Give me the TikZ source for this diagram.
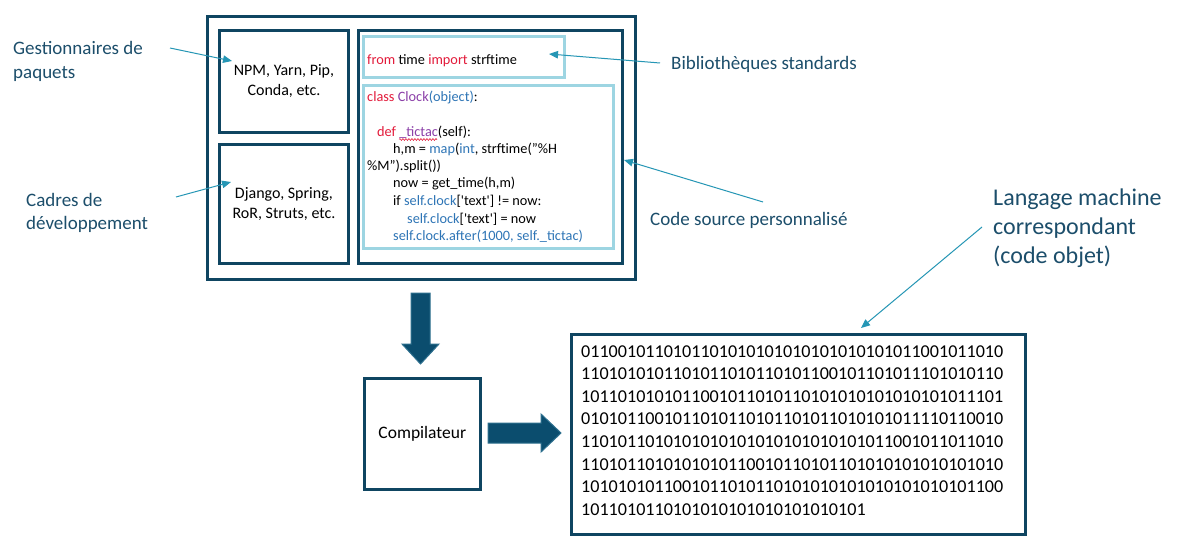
\documentclass[tikz,border=0pt]{standalone}
\usepackage{fontspec}
\setmainfont{Carlito}
\usetikzlibrary{arrows.meta,decorations.pathmorphing}
\definecolor{boxdark}{HTML}{0F4561}
\definecolor{lightbox}{HTML}{9DD5E2}
\definecolor{labelcol}{HTML}{1C4E6B}
\definecolor{thinarrow}{HTML}{2596B5}
\definecolor{codered}{HTML}{E31B3B}
\definecolor{codepurple}{HTML}{8B3FA8}
\definecolor{codeblue}{HTML}{2E75B6}
\definecolor{blockfill}{HTML}{0B4D6E}
\definecolor{blockedge}{HTML}{2D6F8E}
\newcommand{\kw}[1]{\textcolor{codered}{#1}}
\newcommand{\pu}[1]{\textcolor{codepurple}{#1}}
\newcommand{\bl}[1]{\textcolor{codeblue}{#1}}
\newcommand{\qs}{\textquotesingle}
\begin{document}
\begin{tikzpicture}[x=1pt,y=-1pt,
  darkbox/.style={draw=boxdark,line width=3pt,inner sep=0pt,align=center,anchor=north west,font=\fontsize{16}{20}\selectfont},
  lightframe/.style={draw=lightbox,line width=2.6pt,inner sep=0pt,anchor=north west},
  codeline/.style={anchor=base west,inner sep=0pt,font=\fontsize{14.3}{17}\selectfont},
  lbl/.style={anchor=base west,inner sep=0pt,text=labelcol,font=\fontsize{19}{23}\selectfont},
  biglbl/.style={anchor=base west,inner sep=0pt,text=labelcol,font=\fontsize{24}{29}\selectfont},
  binline/.style={anchor=base west,inner sep=0pt,font=\fontsize{18.1}{22}\selectfont},
  pointer/.style={draw=thinarrow,line width=1pt,-{Triangle[length=9pt,width=7.5pt]}},
  blockarrow/.style={fill=blockfill,draw=blockedge,line width=1pt}]
\useasboundingbox[fill=white] (0,0) rectangle (1177,551);

% outer and inner boxes
\node[darkbox,minimum width=428pt,minimum height=263pt] (outer) at (206,15) {};
\node[darkbox,minimum width=129pt,minimum height=102pt] (pkg) at (218,29) {NPM, Yarn, Pip,\\Conda, etc.};
\node[darkbox,minimum width=129pt,minimum height=119pt] (fw) at (218,143) {Django, Spring,\\RoR, Struts, etc.};
\node[darkbox,minimum width=264pt,minimum height=233pt] (src) at (357,29) {};
\node[lightframe,minimum width=201pt,minimum height=41pt] (lib) at (362,35) {};
\node[lightframe,minimum width=250pt,minimum height=163pt] (code) at (362,84) {};

% code text
\node[codeline] (c0) at (367,65) {\kw{from} time \kw{import} strftime};
\node[codeline] (c1) at (367,101) {\kw{class} \pu{Clock}\bl{(object)}:};
\node[codeline] (c2) at (377,136) {\kw{def} \pu{\_tictac}(self):};
\node[codeline] (c3) at (393,153) {h,m = \bl{map}(\bl{int}, strftime("\%H};
\node[codeline] (c4) at (367,170) {\%M").split())};
\node[codeline] (c5) at (393,187) {now = get\_time(h,m)};
\node[codeline] (c6) at (393,205) {if \bl{self.clock}[\qs text\qs] != now:};
\node[codeline] (c7) at (407,223) {\bl{self.clock}[\qs text\qs] = now};
\node[codeline] (c8) at (393,240) {\bl{self.clock.after(1000, self.\_tictac)}};
\draw[codered,line width=0.6pt,decorate,decoration={snake,amplitude=0.9pt,segment length=3pt}] (399,139.5) -- (437,139.5);

% compiler and machine code
\node[darkbox,line width=2.6pt,minimum width=116pt,minimum height=111pt,font=\fontsize{17.5}{21}\selectfont] (comp) at (363,377) {Compilateur};
\node[darkbox,minimum width=454pt,minimum height=200pt] (bin) at (570,333) {};
\node[binline] (b1) at (581,357) {0110010110101101010101010101010101011001011010};
\node[binline] (b2) at (581,379.6) {1101010101101011010110101100101101011101010110};
\node[binline] (b3) at (581,402.2) {1011010101011001011010110101010101010101011101};
\node[binline] (b4) at (581,424.8) {0101011001011010110101101011010101011110110010};
\node[binline] (b5) at (581,447.4) {1101011010101010101010101010101011001011011010};
\node[binline] (b6) at (581,470) {1101011010101010110010110101101010101010101010};
\node[binline] (b7) at (581,492.6) {1010101011001011010110101010101010101010101100};
\node[binline] (b8) at (581,515.2) {1011010110101010101010101010101};

% block arrows
\draw[blockarrow] (411,293) -- (430,293) -- (430,344) -- (439,344) -- (420.5,364) -- (402,344) -- (411,344) -- cycle;
\draw[blockarrow] (488,423) -- (541,423) -- (541,414) -- (561,433) -- (541,452) -- (541,443) -- (488,443) -- cycle;

% labels
\node[lbl] (l1a) at (13,55) {Gestionnaires de};
\node[lbl] (l1b) at (13,78) {paquets};
\node[lbl] (l2a) at (26,206) {Cadres de};
\node[lbl] (l2b) at (26,229) {développement};
\node[lbl] (l3) at (671,70) {Bibliothèques standards};
\node[lbl] (l4) at (650,225) {Code source personnalisé};
\node[biglbl] (l5a) at (993,205) {Langage machine};
\node[biglbl] (l5b) at (993,234) {correspondant};
\node[biglbl] (l5c) at (993,263) {(code objet)};

% pointers
\coordinate (p1s) at (170,48); \coordinate (p1e) at (232,61);
\coordinate (p2s) at (176,197); \coordinate (p2e) at (231,182);
\coordinate (p3s) at (660,63); \coordinate (p3e) at (549,54);
\coordinate (p4s) at (763,202); \coordinate (p4e) at (624,160);
\coordinate (p5s) at (982,227); \coordinate (p5e) at (861,328);
\draw[pointer] (p1s) -- (p1e);
\draw[pointer] (p2s) -- (p2e);
\draw[pointer] (p3s) -- (p3e);
\draw[pointer] (p4s) -- (p4e);
\draw[pointer] (p5s) -- (p5e);
\end{tikzpicture}
\end{document}
